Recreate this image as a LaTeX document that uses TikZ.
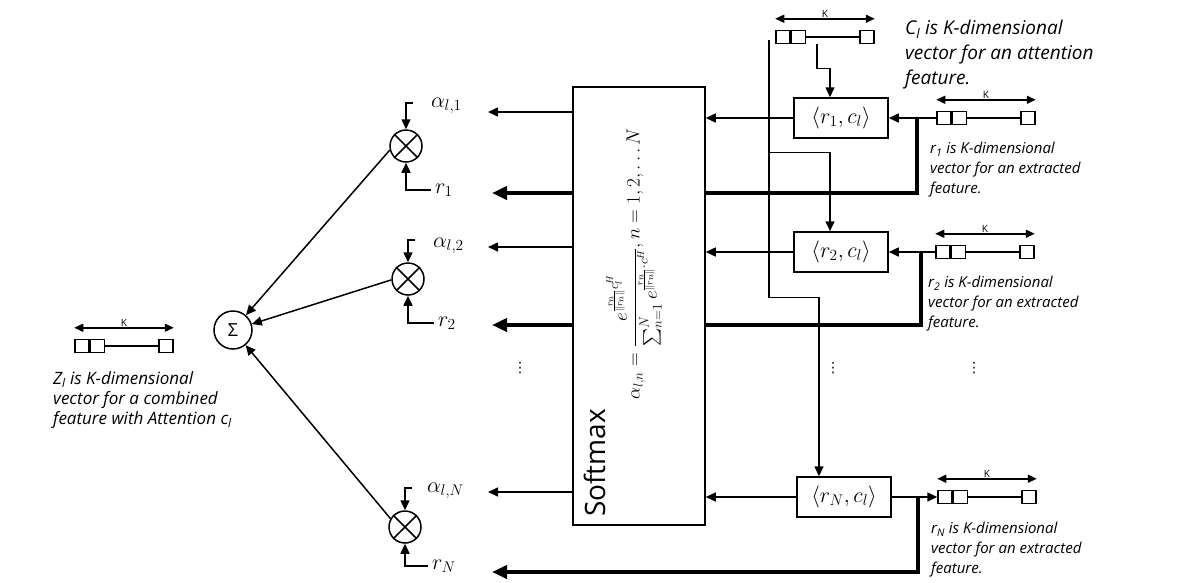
\RequirePackage{fix-cm}
\documentclass[tikz,border=0pt]{standalone}
\usepackage{amsmath}
\usepackage{fontspec}
\setmainfont{Open Sans}
\newfontfamily\symfont{DejaVu Sans}
\usetikzlibrary{positioning}
\usetikzlibrary{arrows.meta}
\tikzset{
    boxn/.style = {draw, line width=1.5pt, minimum width=94pt, minimum height=40pt, inner sep=0, font=\fontsize{22}{26}\selectfont},
    softn/.style = {draw, line width=1.5pt, fill=white, minimum width=132pt, minimum height=438pt},
    muln/.style = {circle, draw, line width=1.5pt, minimum size=32pt, inner sep=0},
    sumn/.style = {circle, draw, line width=1.5pt, minimum size=38pt, inner sep=0, font=\fontsize{18}{20}\selectfont},
    celln/.style = {draw, line width=1.5pt, minimum width=14pt, minimum height=13pt, inner sep=0},
    labn/.style = {anchor=west, inner sep=0, outer sep=4pt, font=\fontsize{22}{26}\selectfont},
    txtn/.style = {anchor=west, align=left, inner sep=0, font=\itshape\fontsize{15}{20}\selectfont},
    dotn/.style = {inner sep=0, font=\symfont\fontsize{14}{14}\selectfont},
    edgen/.style = {line width=1.5pt, -{Triangle[length=10pt,width=9pt]}},
    edgeb/.style = {line width=4pt, -{Triangle[length=15pt,width=13pt]}},
    linen/.style = {line width=1.5pt},
    dimn/.style = {line width=1.5pt, {Triangle[length=9pt,width=8pt]}-{Triangle[length=9pt,width=8pt]}}
}
\newcommand{\featvec}[2]{%
  \node[celln] (#1a) at (#2) {};
  \node[celln, right=0pt of #1a] (#1b) {};
  \node[celln, right=53pt of #1b] (#1c) {};
  \draw[linen] (#1b) -- (#1c);
  \draw[dimn] ([yshift=11pt]#1a.north west) -- node[above=1pt, inner sep=0, font=\fontsize{10}{10}\selectfont] {K} ([yshift=11pt]#1c.north east);
}
\begin{document}
\begin{tikzpicture}[x=1pt,y=-1pt]
\useasboundingbox (0,0) rectangle (1178,582);

% weighted features and sum
\node[muln] at (406,146) (m1) {};
\node[muln] at (408,279) (m2) {};
\node[muln] at (405,527) (mN) {};
\foreach \m in {m1,m2,mN} {
  \draw[linen] (\m.45) -- (\m.225);
  \draw[linen] (\m.135) -- (\m.315);
}
\node[sumn] at (233,330) (sum) {Σ};
\draw[edgen] (m1.194) -- (sum);
\draw[edgen] (m2.183) -- (sum);
\draw[edgen] (mN.150) -- (sum);

\node[labn] at (427,106) (a1) {$\alpha_{l,1}$};
\node[labn] at (431,190) (r1) {$r_1$};
\node[labn] at (429,246) (a2) {$\alpha_{l,2}$};
\node[labn] at (434,323) (r2) {$r_2$};
\node[labn] at (423,491) (aN) {$\alpha_{l,N}$};
\node[labn] at (428,566) (rN) {$r_N$};

\coordinate (a1in) at (413,103);
\coordinate (a2in) at (415,240);
\coordinate (aNin) at (412,488);
\draw[edgen] (a1in) -| (m1.north);
\draw[edgen] (a2in) -| (m2.north);
\draw[edgen] (aNin) -| (mN.north);
\draw[edgen] (r1.west) -| (m1.south);
\draw[edgen] (r2.west) -| (m2.south);
\draw[edgen] (rN.west) -| (mN.south);

% extracted features (thick)
\coordinate (j1) at (917,118);
\coordinate (j2) at (921,252);
\coordinate (jN) at (918,497);
\coordinate (t1) at (492,193);
\coordinate (t2) at (492,325);
\coordinate (tN) at (492,572);
\draw[edgeb] (j1) |- (t1);
\draw[edgeb] (j2) |- (t2);
\draw[edgeb] (jN) |- (tN);

% softmax
\node[softn] at (639,306) (sm) {};
\node[rotate=90, font=\fontsize{28}{30}\selectfont] at (595,463) (smt) {Softmax};
\node[rotate=90, font=\fontsize{19}{22}\selectfont] at (634,264) (eq) {$\alpha_{l,n} = \dfrac{e^{\frac{r_n}{\|r_n\|}c_l^H}}{\sum\nolimits_{n=1}^{N} e^{\frac{r_n}{\|r_n\|}\cdot c^H}}, n = 1,2,\ldots N$};

\coordinate (a1t) at (488,112);
\coordinate (a2t) at (488,247);
\coordinate (aNt) at (488,492);
\draw[edgen] (sm.west |- a1t) -- (a1t);
\draw[edgen] (sm.west |- a2t) -- (a2t);
\draw[edgen] (sm.west |- aNt) -- (aNt);

% inner products
\node[boxn] at (841,118) (b1) {$\langle r_1, c_l\rangle$};
\node[boxn] at (841,252) (b2) {$\langle r_2, c_l\rangle$};
\node[boxn] at (844,497) (bN) {$\langle r_N, c_l\rangle$};
\draw[edgen] (b1.west) -- (b1.west -| sm.east);
\draw[edgen] (b2.west) -- (b2.west -| sm.east);
\draw[edgen] (bN.west) -- (bN.west -| sm.east);

% vectors
\featvec{c}{783,37}
\featvec{v1}{944,118}
\featvec{v2}{943,252}
\featvec{vN}{945,497}
\featvec{z}{82,346}

\draw[edgen] (v1a.west) -- (b1.east);
\draw[edgen] (v2a.west) -- (b2.east);
\draw[edgen] (bN.east) -- (vNa.west);

\coordinate (cout) at (817,44);
\coordinate (ctr) at (769,40);
\draw[edgen] (cout) |- ([xshift=-11pt,yshift=29pt]b1.north) -- ([xshift=-11pt]b1.north);
\draw[edgen] (ctr) |- ([xshift=-11pt,yshift=79pt]b2.north) -- ([xshift=-11pt]b2.north);
\draw[edgen] (ctr) |- ([xshift=-25pt,yshift=179pt]bN.north) -- ([xshift=-25pt]bN.north);

% texts
\node[txtn, font=\itshape\fontsize{19}{25}\selectfont] at (905,55) (ctxt) {C\textsubscript{l} is K-dimensional\\vector for an attention\\feature.};
\node[txtn] at (930,170) (r1txt) {r\textsubscript{1} is K-dimensional\\vector for an extracted\\feature.};
\node[txtn] at (928,304) (r2txt) {r\textsubscript{2} is K-dimensional\\vector for an extracted\\feature.};
\node[txtn] at (931,550) (rNtxt) {r\textsubscript{N} is K-dimensional\\vector for an extracted\\feature.};
\node[txtn, font=\itshape\fontsize{17}{20}\selectfont] at (53,400) (ztxt) {Z\textsubscript{l} is K-dimensional\\vector for a combined\\feature with Attention c\textsubscript{l}};

\node[dotn] at (520,368) (d1) {⋮};
\node[dotn] at (833,368) (d2) {⋮};
\node[dotn] at (974,368) (d3) {⋮};

\end{tikzpicture}
\end{document}
